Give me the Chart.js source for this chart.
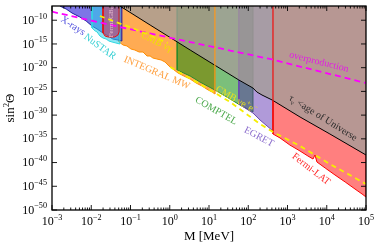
<!DOCTYPE html>
<html lang="en">
<head>
<meta charset="UTF-8">
<title>Sterile neutrino bounds</title>
<script src="https://cdn.jsdelivr.net/npm/chart.js"></script>
<style>
  html, body { margin: 0; padding: 0; background: #fff; }
  #wrap { width: 379px; height: 248px; }
</style>
</head>
<body>
<div id="wrap"><canvas id="grafico"></canvas></div>
<script>
// all values are log10(M / MeV) and log10(sin^2 Theta)
const xraysM = [-2.80, -2.64, -2.49, -2.29, -2.13, -1.98, -1.85, -1.70, -1.57, -1.45, -1.32, -1.22, -1.22];
const xraysS = [-7.0, -7.63, -8.48, -9.32, -10.16, -11.22, -11.85, -12.69, -13.32, -13.96, -14.17, -14.38, -7.0];
const nustarM = [-1.98, -1.98, -1.90, -1.85, -1.78, -1.70, -1.62, -1.55, -1.47, -1.37, -1.27, -1.27];
const nustarS = [-7.0, -11.64, -12.27, -12.48, -13.32, -13.75, -13.96, -14.38, -14.59, -14.80, -15.01, -7.0];
const gbmM = [-1.70, -1.70, -1.65, -1.57, -1.40, -1.32, -1.29, -1.29];
const gbmS = [-7.0, -12.69, -13.32, -13.54, -13.54, -13.11, -12.48, -7.0];
const integralM = [-1.29, -1.29, -1.19, -1.09, -0.99, -0.89, -0.78, -0.68, -0.58, -0.50, -0.43, -0.33, -0.22, -0.12, -0.02, 0.08, 0.21, 0.36, 0.52, 0.67, 0.82, 0.98, 1.08, 1.15, 1.15];
const integralS = [-7.0, -14.59, -15.22, -15.43, -16.06, -16.28, -16.70, -16.70, -17.54, -17.54, -17.96, -18.17, -18.38, -18.80, -19.65, -20.28, -21.12, -21.76, -22.39, -23.23, -23.86, -24.71, -25.13, -25.55, -7.0];
const comptelM = [0.19, 0.19, 0.52, 0.77, 1.15, 1.41, 1.79, 2.12, 2.12];
const comptelS = [-7.0, -20.49, -21.76, -23.02, -24.71, -25.97, -27.87, -29.34, -7.0];
const egretM = [1.76, 1.76, 1.92, 2.12, 2.30, 2.48, 2.63, 2.63];
const egretS = [-7.0, -27.66, -28.50, -29.56, -31.03, -32.30, -33.35, -7.0];
const fermiM = [2.63, 2.63, 2.81, 3.06, 3.32, 3.52, 3.65, 3.70, 3.75, 3.96, 4.21, 4.47, 4.72, 4.90, 5.0, 5.0];
const fermiS = [-7.0, -33.98, -34.82, -36.30, -37.57, -38.62, -39.25, -38.41, -39.88, -41.15, -42.62, -44.10, -45.58, -46.63, -47.26, -7.0];
const ageM = [-1.27, -0.50, 0.52, 1.76, 2.12, 2.22, 2.35, 2.61, 3.32, 4.08, 5.0];
const ageS = [-7.0, -11.01, -16.28, -22.60, -24.29, -25.13, -25.76, -26.82, -30.40, -33.98, -38.41];
const overM = [-3.0, -1.27, 0.52, 2.55, 5.0];
const overS = [-8.2, -11.43, -14.59, -18.17, -23.23];
const cmbGammaM = [-1.78, -0.89, -0.05];
const cmbGammaS = [-9.11, -11.85, -14.80];
const cmbEeM = [0.01, 0.77, 1.54, 2.30, 2.63, 3.32, 4.08, 5.0];
const cmbEeS = [-19.86, -23.44, -27.24, -31.87, -33.56, -36.51, -40.31, -44.52];

const xTickExp = [-3, -2, -1, 0, 1, 2, 3, 4, 5];
const yTickExp = [-50, -45, -40, -35, -30, -25, -20, -15, -10];
const yTop = -7;

const notes = [
  { parts: [['X-rays', 0]], m: -2.47, s: -11.2, rot: 33, color: '#4b4bdc', size: 10 },
  { parts: [['NuSTAR', 0]], m: -1.78, s: -15.6, rot: 36, color: '#36d0d4', size: 10 },
  { parts: [['Fermi GBM', 0]], m: -1.50, s: -10.0, rot: -90, color: 'rgba(255,215,225,0.7)', size: 7 },
  { parts: [['INTEGRAL MW', 0]], m: -0.33, s: -21.1, rot: 23, color: '#ffa040', size: 10 },
  { parts: [['CMB νγ', 0]], m: -0.33, s: -14.6, rot: 27, color: '#f0e000', size: 10 },
  { parts: [['COMPTEL', 0]], m: 1.18, s: -29.1, rot: 30, color: '#4aa84a', size: 10 },
  { parts: [['CMB νe', 0], ['+', 1], ['e', 0], ['−', 1]], m: 1.69, s: -26.8, rot: 30, color: '#e8e020', size: 10 },
  { parts: [['EGRET', 0]], m: 2.27, s: -34.6, rot: 28, color: '#8a6ccc', size: 10 },
  { parts: [['Fermi-LAT', 0]], m: 3.60, s: -41.4, rot: 38, color: '#ff2a2a', size: 10 },
  { parts: [['τ', 0], ['ν', -1], [' <age of Universe', 0]], m: 3.90, s: -30.6, rot: 32, color: '#2a2a2a', size: 10 },
  { parts: [['overproduction', 0]], m: 3.80, s: -18.8, rot: 14, color: '#e020e0', size: 10 }
];

const FONT = '"Liberation Serif", "DejaVu Serif", serif';
const pts = (ms, ss) => ms.map((m, i) => ({ x: 10 ** m, y: 10 ** ss[i] }));

function region(ms, ss, bg, border, order) {
  return { data: pts(ms, ss), fill: 'end', backgroundColor: bg, borderColor: border, borderWidth: 1, pointRadius: 0, order };
}
function curve(ms, ss, color, width, dash, order) {
  return { data: pts(ms, ss), fill: false, borderColor: color, borderWidth: width, borderDash: dash, pointRadius: 0, order };
}

function rich(ctx, parts, cx, cy, align, base) {
  const fontFor = k => `${k ? base * 0.68 : base}px ${FONT}`;
  const widths = parts.map(([t, k]) => { ctx.font = fontFor(k); return ctx.measureText(t).width; });
  const total = widths.reduce((a, b) => a + b, 0);
  let px = align === 'right' ? cx - total : align === 'left' ? cx : cx - total / 2;
  ctx.textAlign = 'left';
  ctx.textBaseline = 'middle';
  parts.forEach(([t, k], i) => {
    ctx.font = fontFor(k);
    ctx.fillText(t, px, cy - k * base * 0.36);
    px += widths[i];
  });
}

const decor = {
  id: 'decor',
  afterDatasetsDraw(chart) {
    const { ctx, chartArea: a, scales: { x, y } } = chart;
    ctx.save();
    ctx.beginPath();
    ctx.rect(a.left, a.top, a.right - a.left, a.bottom - a.top);
    ctx.clip();
    notes.forEach(n => {
      ctx.save();
      ctx.translate(x.getPixelForValue(10 ** n.m), y.getPixelForValue(10 ** n.s));
      ctx.rotate(n.rot * Math.PI / 180);
      ctx.fillStyle = n.color;
      rich(ctx, n.parts, 0, 0, 'center', n.size);
      ctx.restore();
    });
    ctx.restore();

    ctx.save();
    ctx.strokeStyle = '#000';
    ctx.fillStyle = '#000';
    ctx.lineWidth = 0.9;
    ctx.beginPath();
    xTickExp.forEach((e, i) => {
      const px = x.getPixelForValue(10 ** e);
      ctx.moveTo(px, a.bottom); ctx.lineTo(px, a.bottom - 5);
      ctx.moveTo(px, a.top); ctx.lineTo(px, a.top + 5);
      if (i < xTickExp.length - 1) {
        for (let k = 2; k < 10; k++) {
          const qx = x.getPixelForValue(k * 10 ** e);
          ctx.moveTo(qx, a.bottom); ctx.lineTo(qx, a.bottom - 2.5);
          ctx.moveTo(qx, a.top); ctx.lineTo(qx, a.top + 2.5);
        }
      }
    });
    yTickExp.forEach(e => {
      const py = y.getPixelForValue(10 ** e);
      ctx.moveTo(a.left, py); ctx.lineTo(a.left + 5, py);
      ctx.moveTo(a.right, py); ctx.lineTo(a.right - 5, py);
    });
    ctx.stroke();
    ctx.lineWidth = 1.3;
    ctx.strokeRect(a.left, a.top, a.right - a.left, a.bottom - a.top);

    xTickExp.forEach(e => {
      const exp = e < 0 ? '−' + Math.abs(e) : String(e);
      rich(ctx, [['10', 0], [exp, 1]], x.getPixelForValue(10 ** e), a.bottom + 12, 'center', 12);
    });
    yTickExp.forEach(e => {
      rich(ctx, [['10', 0], ['−' + Math.abs(e), 1]], a.left - 5, y.getPixelForValue(10 ** e) + 0.5, 'right', 12);
    });

    rich(ctx, [['M [MeV]', 0]], (a.left + a.right) / 2, 237, 'center', 13);
    ctx.translate(11, (a.top + a.bottom) / 2);
    ctx.rotate(-Math.PI / 2);
    rich(ctx, [['sin', 0], ['2', 1], ['Θ', 0]], 0, 0, 'center', 13);
    ctx.restore();
  }
};

const integralEnd = integralM.length - 2;

new Chart(document.getElementById('grafico').getContext('2d'), {
  type: 'line',
  data: {
    datasets: [
      region(integralM, integralS, 'rgba(255,150,40,0.8)', '#ff8c00', 20),
      region(xraysM, xraysS, 'rgba(70,60,220,0.7)', '#1a1aa0', 19),
      region(nustarM, nustarS, 'rgba(40,210,235,0.55)', '#30d8e0', 18),
      region(gbmM, gbmS, 'rgba(235,40,70,0.5)', '#e81010', 17),
      region(comptelM, comptelS, 'rgba(20,140,20,0.56)', '#2a8a2a', 16),
      region(egretM, egretS, 'rgba(80,30,170,0.45)', '#6a4ab0', 15),
      region(fermiM, fermiS, 'rgba(255,0,0,0.5)', '#ff0000', 14),
      region(ageM, ageS, 'rgba(165,158,152,0.8)', '#000000', 13),
      curve([integralM[integralEnd], integralM[integralEnd]], [yTop, integralS[integralEnd]], '#ff9a20', 1.2, [], 12),
      curve([fermiM[0], fermiM[1]], [yTop, fermiS[1]], '#ee2020', 1.2, [], 12),
      curve(overM, overS, '#ff00ff', 1.8, [6, 4], 11),
      curve(cmbGammaM, cmbGammaS, '#f5ee00', 1.8, [5, 4], 10),
      curve(cmbEeM, cmbEeS, '#f5ee00', 1.8, [5, 4], 10)
    ]
  },
  options: {
    responsive: true,
    maintainAspectRatio: false,
    animation: false,
    devicePixelRatio: 1,
    events: [],
    layout: { padding: { left: 52, right: 13, top: 6, bottom: 38 } },
    elements: { line: { tension: 0 } },
    plugins: { legend: { display: false }, tooltip: { enabled: false } },
    scales: {
      x: {
        type: 'logarithmic', min: 10 ** xTickExp[0], max: 10 ** xTickExp[xTickExp.length - 1], bounds: 'data',
        grid: { display: false, drawTicks: false }, border: { display: false }, ticks: { display: false }
      },
      y: {
        type: 'logarithmic', min: 10 ** yTickExp[0], max: 10 ** yTop, bounds: 'data',
        afterBuildTicks: s => { s.ticks = yTickExp.map(e => ({ value: 10 ** e })); },
        grid: { display: false, drawTicks: false }, border: { display: false }, ticks: { display: false }
      }
    }
  },
  plugins: [decor]
});
</script>
</body>
</html>
